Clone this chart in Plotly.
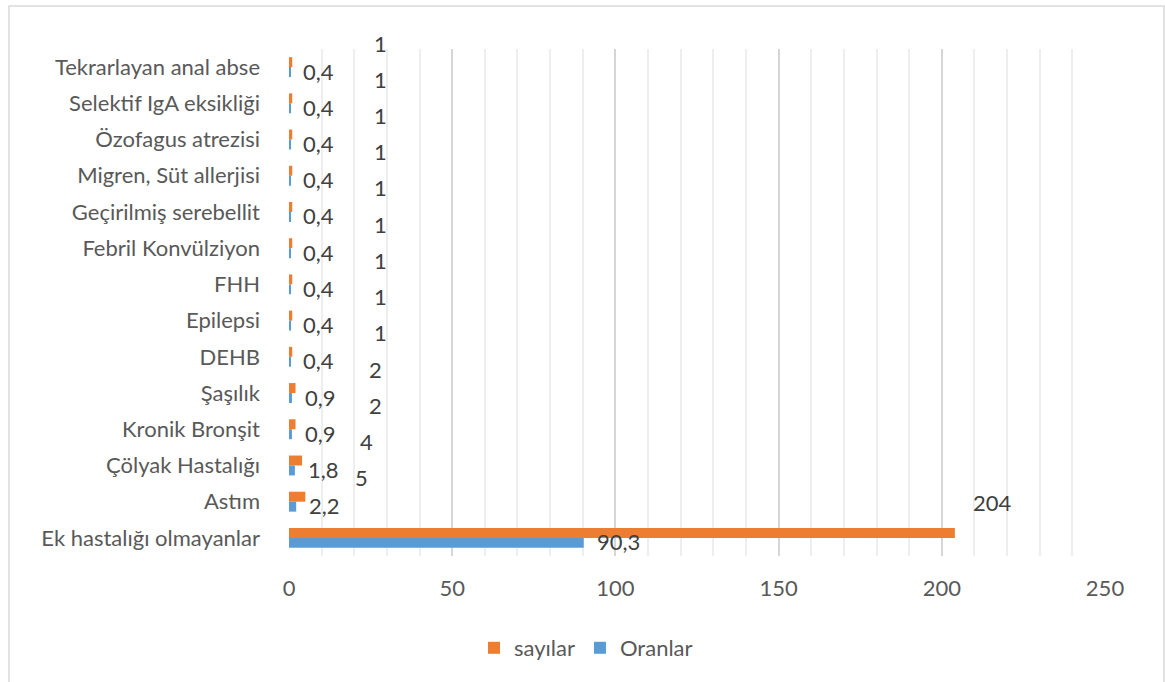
import plotly.graph_objects as go

categories = [
    "Tekrarlayan anal abse",
    "Selektif IgA eksikliği",
    "Özofagus atrezisi",
    "Migren, Süt allerjisi",
    "Geçirilmiş serebellit",
    "Febril Konvülziyon",
    "FHH",
    "Epilepsi",
    "DEHB",
    "Şaşılık",
    "Kronik Bronşit",
    "Çölyak Hastalığı",
    "Astım",
    "Ek hastalığı olmayanlar",
]
sayilar = [1, 1, 1, 1, 1, 1, 1, 1, 1, 2, 2, 4, 5, 204]
oranlar = [0.4, 0.4, 0.4, 0.4, 0.4, 0.4, 0.4, 0.4, 0.4, 0.9, 0.9, 1.8, 2.2, 90.3]
x_ticks = [0, 50, 100, 150, 200, 250]

ORANGE = "#ED7D31"
BLUE = "#5B9BD5"
FONT = "Lato"
FS = 22
TXT = "#404040"
AX = "#595959"

fig = go.Figure()
fig.add_trace(go.Bar(
    name="sayılar", y=categories, x=sayilar, orientation="h",
    marker=dict(color=ORANGE, line=dict(width=0)),
))
fig.add_trace(go.Bar(
    name="Oranlar", y=categories, x=oranlar, orientation="h",
    marker=dict(color=BLUE, line=dict(width=0)),
))

annotations = []
# labels for "sayılar" (offset up/right as in the 3D original)
for c, v in zip(categories, sayilar):
    big = v > 100
    annotations.append(dict(
        x=v, y=c, xref="x", yref="y", text=str(v), showarrow=False,
        xanchor="center", yanchor="middle",
        xshift=38 if big else 88 - 8 * (v - 1), yshift=35 if big else 24,
        font=dict(family=FONT, size=FS, color=TXT),
    ))
# labels for "Oranlar"
for c, v in zip(categories, oranlar):
    annotations.append(dict(
        x=v, y=c, xref="x", yref="y", text=f"{v:.1f}".replace(".", ","),
        showarrow=False, xanchor="left", yanchor="middle",
        xshift=11, yshift=-4,
        font=dict(family=FONT, size=FS, color=TXT),
    ))

L, R, T, B = 289, 60, 49, 126
W, H = 1165, 682
pw, ph = W - L - R, H - T - B
n = len(categories)

fig.update_layout(
    width=W, height=H,
    margin=dict(l=L, r=R, t=T, b=B),
    paper_bgcolor="white", plot_bgcolor="white",
    barmode="group", bargap=0.45, bargroupgap=0,
    font=dict(family=FONT, size=FS, color=AX),
    showlegend=True,
    legend=dict(
        orientation="h", x=(586 - L) / pw, xanchor="center",
        y=(H - B - 648) / ph, yanchor="middle",
        font=dict(family=FONT, size=FS, color=AX),
        itemclick=False, itemwidth=30, tracegroupgap=0,
    ),
    annotations=annotations,
    shapes=[dict(
        type="rect", xref="paper", yref="paper",
        x0=(9 - L) / pw, x1=(1164 - L) / pw,
        y0=(H - B - 690) / ph, y1=(H - B - 6) / ph,
        line=dict(color="#d9d9d9", width=1.5), fillcolor="rgba(0,0,0,0)",
        layer="below",
    )],
    xaxis=dict(
        range=[0, 250], tickvals=x_ticks, ticktext=[str(t) for t in x_ticks],
        showgrid=True, gridcolor="#d6d6d6", gridwidth=2,
        minor=dict(dtick=10, showgrid=True, gridcolor="#eeeeee", gridwidth=2, ticks=""),
        zeroline=False, showline=False, ticks="",
        ticklabelstandoff=17,
        tickfont=dict(family=FONT, size=FS, color=AX),
    ),
    yaxis=dict(
        range=[n - 0.5, -0.5], autorange=False,
        showgrid=False, zeroline=False, showline=False,
        ticks="", ticklabelstandoff=28,
        tickfont=dict(family=FONT, size=FS, color=AX),
    ),
)

fig.write_html("out.html")
